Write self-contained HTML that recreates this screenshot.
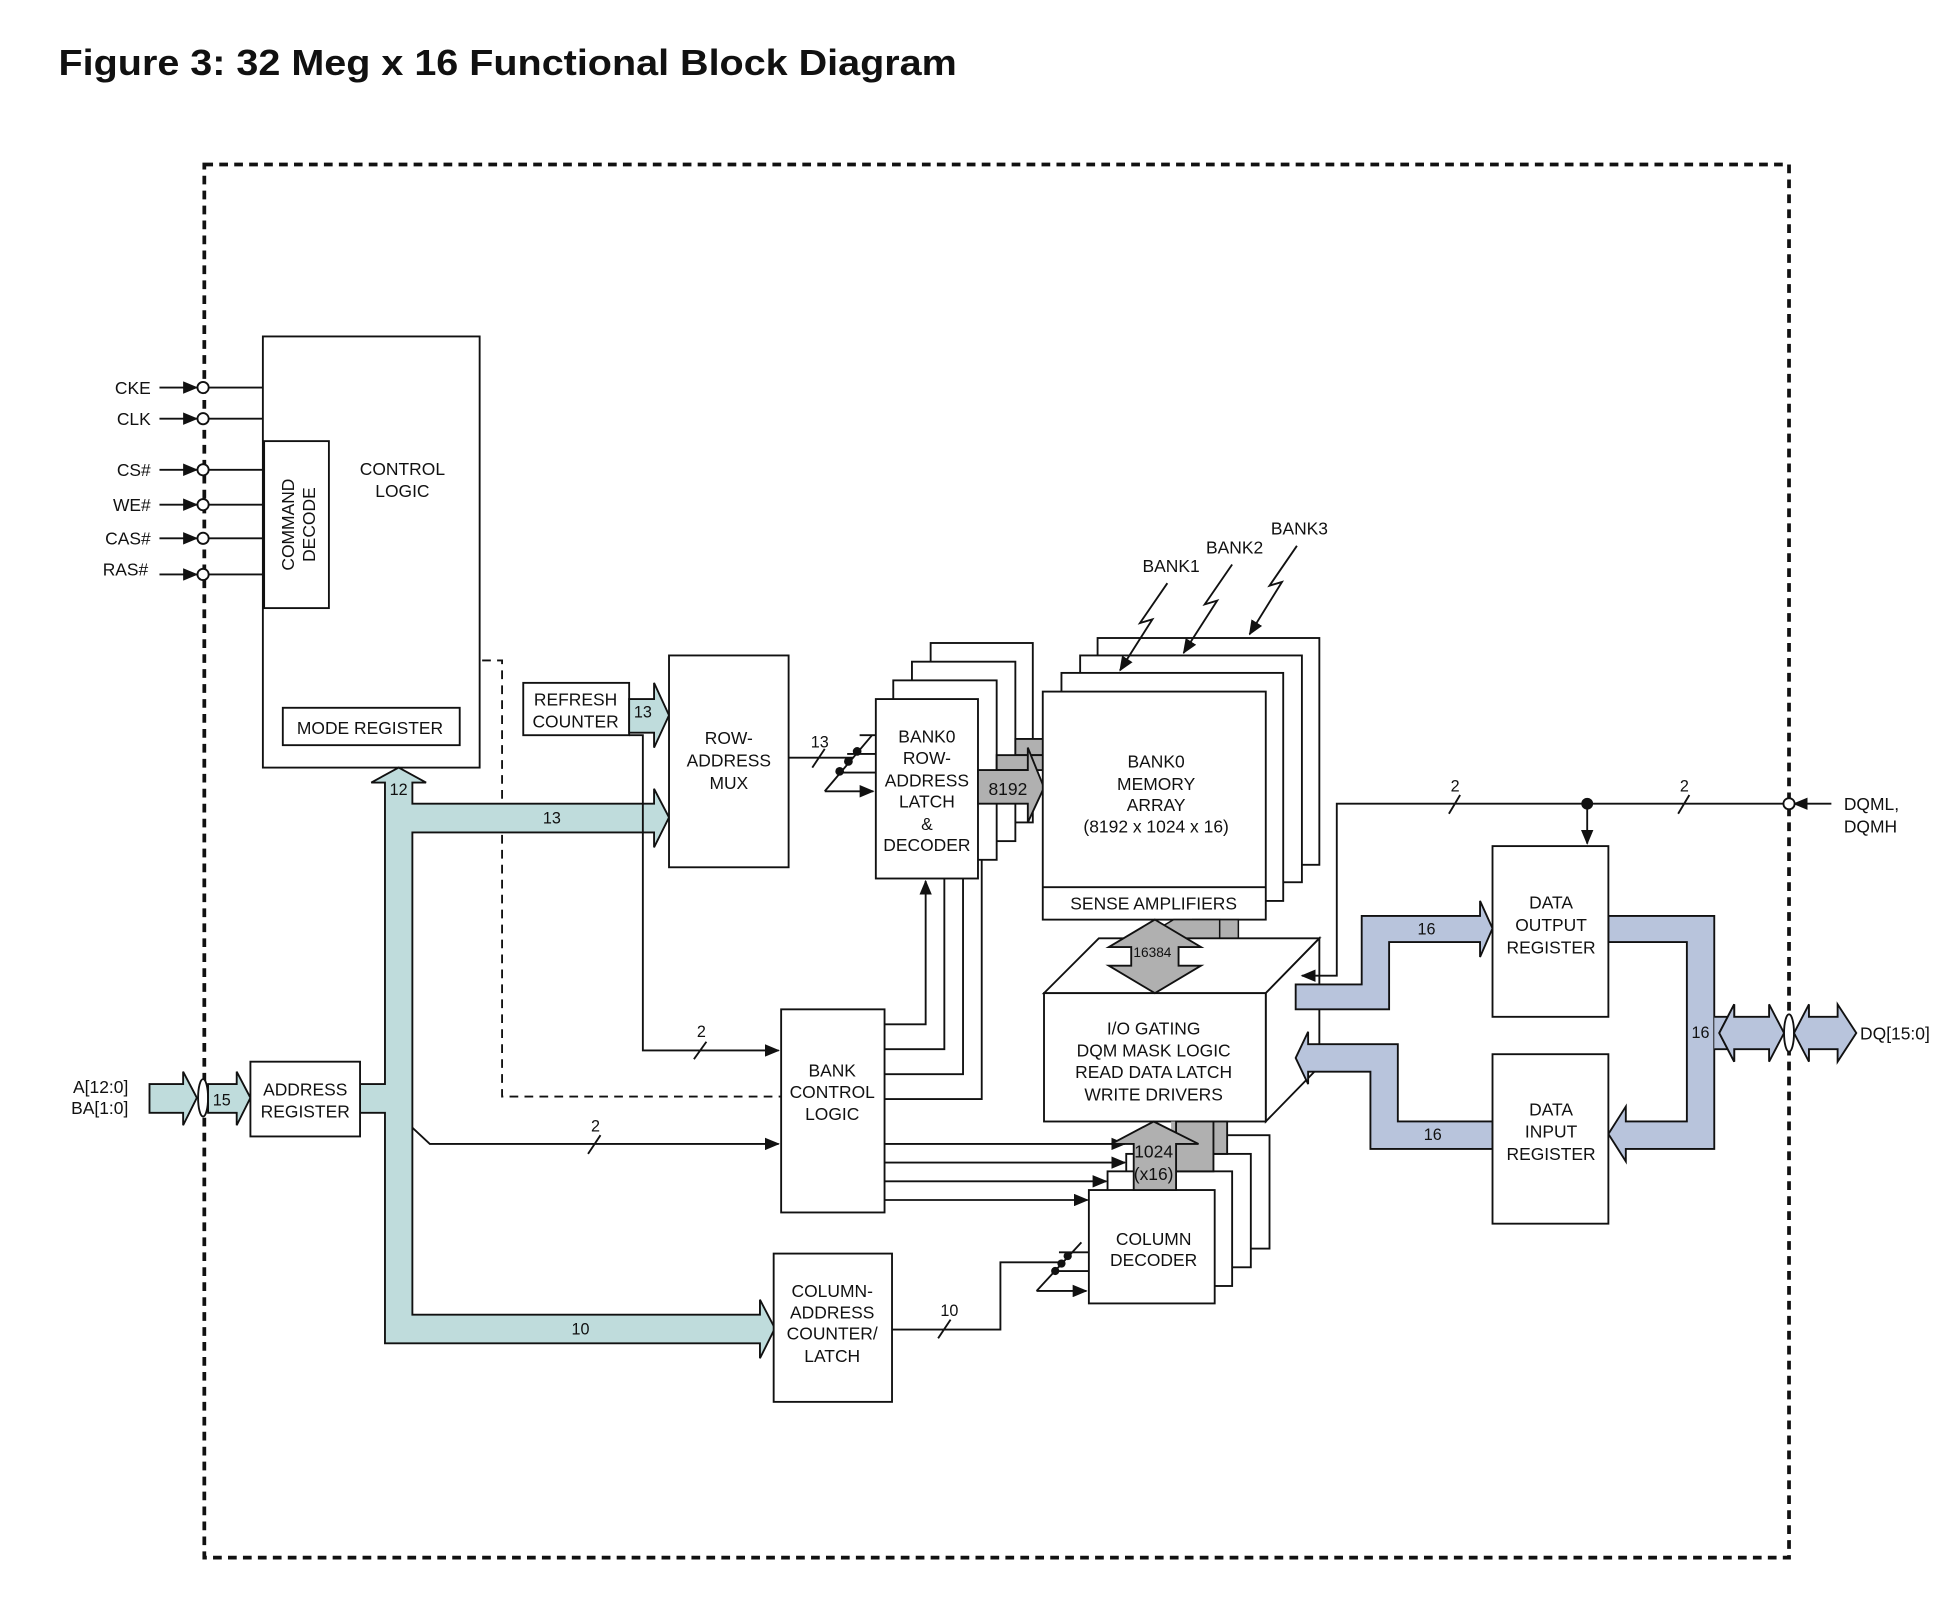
<!DOCTYPE html>
<html><head><meta charset="utf-8"><style>
html,body{margin:0;padding:0;background:#fff;}
svg{display:block;}
text{font-family:"Liberation Sans",sans-serif;font-size:14px;fill:#111;}
</style></head><body>
<svg width="1946" height="1600" viewBox="0 0 1562 1284" preserveAspectRatio="none" xmlns="http://www.w3.org/2000/svg">
<defs>
<marker id="ar" markerWidth="12" markerHeight="10" refX="11" refY="5" orient="auto" markerUnits="userSpaceOnUse"><path d="M0,0 L12,5 L0,10 z" fill="#111"/></marker>
</defs>
<text x="47" y="60" style="font-size:29px;font-weight:bold" textLength="721" lengthAdjust="spacingAndGlyphs">Figure 3: 32 Meg x 16 Functional Block Diagram</text>
<rect x="164" y="132" width="1272" height="1118" fill="none" stroke="#111" stroke-width="3" stroke-dasharray="7,5"/>

<g stroke="#111" stroke-width="1.5" fill="none">
<g>
<line x1="128" y1="311" x2="158" y2="311" marker-end="url(#ar)"/><line x1="167" y1="311" x2="211" y2="311"/>
<line x1="128" y1="336" x2="158" y2="336" marker-end="url(#ar)"/><line x1="167" y1="336" x2="211" y2="336"/>
<line x1="128" y1="377" x2="158" y2="377" marker-end="url(#ar)"/><line x1="167" y1="377" x2="212" y2="377"/>
<line x1="128" y1="405" x2="158" y2="405" marker-end="url(#ar)"/><line x1="167" y1="405" x2="212" y2="405"/>
<line x1="128" y1="432" x2="158" y2="432" marker-end="url(#ar)"/><line x1="167" y1="432" x2="212" y2="432"/>
<line x1="128" y1="461" x2="158" y2="461" marker-end="url(#ar)"/><line x1="167" y1="461" x2="212" y2="461"/>
</g>
<g fill="#fff">
<circle cx="163" cy="311" r="4.5"/><circle cx="163" cy="336" r="4.5"/><circle cx="163" cy="377" r="4.5"/>
<circle cx="163" cy="405" r="4.5"/><circle cx="163" cy="432" r="4.5"/><circle cx="163" cy="461" r="4.5"/>
</g>
<rect x="211" y="270" width="174" height="346" fill="#fff"/>
<rect x="212" y="354" width="52" height="134" fill="#fff"/>
<rect x="227" y="568" width="142" height="30" fill="#fff"/>

<polyline points="387,530 403,530 403,880 627,880" stroke-dasharray="7,5"/>

<path d="M120,870 L147,870 L147,860 L158,881 L147,903 L147,893 L120,893 Z" fill="#bfdcdc"/>
<ellipse cx="163" cy="881" rx="4" ry="15" fill="#fff"/>
<path d="M167,870 L190,870 L190,860 L201,881 L190,903 L190,893 L167,893 Z" fill="#bfdcdc"/>
<path d="M289,893 L309,893 L309,1078 L610,1078 L610,1090 L622,1066 L610,1043 L610,1055 L331,1055 L331,668 L525,668 L525,680 L537,656 L525,633 L525,645 L331,645 L331,628 L342,628 L320,616 L298,628 L309,628 L309,870 L289,870 Z" fill="#bfdcdc"/>
<rect x="201" y="852" width="88" height="60" fill="#fff"/>

<rect x="420" y="548" width="85" height="42" fill="#fff"/>
<path d="M505,561 L525,561 L525,548 L537,574 L525,600 L525,588 L505,588 Z" fill="#bfdcdc"/>
<polyline points="505,590 516,590 516,843 625,843" marker-end="url(#ar)"/>
<line x1="557" y1="850" x2="567" y2="836"/>

<rect x="537" y="526" width="96" height="170" fill="#fff"/>
<line x1="633" y1="608" x2="685" y2="608"/>
<line x1="652" y1="616" x2="662" y2="601"/>
<line x1="662" y1="635" x2="700" y2="590"/>
<line x1="690" y1="590" x2="703" y2="590"/><line x1="680" y1="605" x2="703" y2="605"/><line x1="672" y1="620" x2="703" y2="620"/>
<line x1="662" y1="635" x2="701" y2="635" marker-end="url(#ar)"/>
<g fill="#111" stroke="none"><circle cx="688" cy="603" r="3.5"/><circle cx="681" cy="611" r="3.5"/><circle cx="674" cy="619" r="3.5"/></g>

<!-- bank control vertical lines (drawn before latch stack) -->
<polyline points="710,842 758,842 758,705"/>
<polyline points="710,862 773,862 773,705"/>
<polyline points="710,882 788,882 788,690"/>

<rect x="747" y="516" width="82" height="144" fill="#fff"/>
<rect x="732" y="531" width="83" height="144" fill="#fff"/>
<rect x="717" y="546" width="83" height="144" fill="#fff"/>
<rect x="815" y="593" width="23" height="13" fill="#b0b0b0"/>
<rect x="800" y="606" width="38" height="12" fill="#b0b0b0"/>
<rect x="703" y="561" width="82" height="144" fill="#fff"/>
<path d="M785,618 L825,618 L825,600 L838,632 L825,660 L825,645 L785,645 Z" fill="#b0b0b0"/>

<rect x="627" y="810" width="83" height="163" fill="#fff"/>
<polyline points="331,905 345,918 625,918" marker-end="url(#ar)"/>
<line x1="472" y1="926" x2="482" y2="911"/>
<polyline points="710,822 743,822 743,707" marker-end="url(#ar)"/>
<line x1="710" y1="918" x2="903" y2="918" marker-end="url(#ar)"/>
<line x1="710" y1="933" x2="903" y2="933" marker-end="url(#ar)"/>
<line x1="710" y1="948" x2="888" y2="948" marker-end="url(#ar)"/>
<line x1="710" y1="963" x2="873" y2="963" marker-end="url(#ar)"/>

<rect x="621" y="1006" width="95" height="119" fill="#fff"/>
<polyline points="716,1067 803,1067 803,1013 850,1013"/>
<line x1="753" y1="1074" x2="763" y2="1059"/>
<line x1="832" y1="1036" x2="868" y2="997"/>
<line x1="850" y1="1005" x2="874" y2="1005"/><line x1="845" y1="1020" x2="874" y2="1020"/>
<line x1="832" y1="1036" x2="872" y2="1036" marker-end="url(#ar)"/>
<g fill="#111" stroke="none"><circle cx="857" cy="1008" r="3.3"/><circle cx="852" cy="1014" r="3.3"/><circle cx="847" cy="1020" r="3.3"/></g>

<rect x="881" y="512" width="178" height="182" fill="#fff"/>
<rect x="867" y="526" width="178" height="182" fill="#fff"/>
<rect x="852" y="540" width="178" height="183" fill="#fff"/>
<rect x="837" y="555" width="179" height="183" fill="#fff"/>
<line x1="837" y1="712" x2="1016" y2="712"/>

<polyline points="937,468 915,500 925,497 899,538" marker-end="url(#ar)"/>
<polyline points="989,453 967,485 977,482 950,524" marker-end="url(#ar)"/>
<polyline points="1041,438 1019,470 1029,467 1003,509" marker-end="url(#ar)"/>

<path d="M957,738 L994,738 L994,760 L976,760 L976,775 L994,775 L957,797 L920,775 L938,775 L938,760 L920,760 Z" fill="#b0b0b0" stroke-width="1.2"/>
<path d="M942,738 L979,738 L979,760 L961,760 L961,775 L979,775 L942,797 L905,775 L923,775 L923,760 L905,760 Z" fill="#b0b0b0" stroke-width="1.2"/>

<polygon points="838,797 882,753 1059,753 1016,797" fill="#fff"/>
<polygon points="1016,797 1059,753 1059,856 1016,900" fill="#fff"/>
<rect x="838" y="797" width="178" height="103" fill="#fff"/>
<path d="M927,738 L964,760 L946,760 L946,775 L964,775 L927,797 L890,775 L908,775 L908,760 L890,760 Z" fill="#b0b0b0"/>

<rect x="940" y="900" width="34" height="11" fill="#b0b0b0" stroke="none"/>
<rect x="918" y="911" width="101" height="91" fill="#fff"/>
<rect x="904" y="926" width="100" height="91" fill="#fff"/>
<rect x="889" y="940" width="100" height="92" fill="#fff"/>
<rect x="955" y="900" width="30" height="26" fill="#b0b0b0"/>
<rect x="944" y="900" width="30" height="40" fill="#b0b0b0"/>
<rect x="874" y="955" width="101" height="91" fill="#fff"/>
<path d="M926,900 L962,918 L944,918 L944,955 L910,955 L910,918 L892,918 Z" fill="#b0b0b0"/>

<polyline points="1470,645 1440,645" marker-end="url(#ar)"/>
<polyline points="1431,645 1073,645 1073,783 1045,783" marker-end="url(#ar)"/>
<circle cx="1436" cy="645" r="4.5" fill="#fff"/>
<circle cx="1274" cy="645" r="4" fill="#111"/>
<line x1="1274" y1="645" x2="1274" y2="677" marker-end="url(#ar)"/>
<line x1="1163" y1="653" x2="1172" y2="638"/>
<line x1="1347" y1="653" x2="1356" y2="638"/>

<path d="M1040,790 L1093,790 L1093,735 L1188,735 L1188,723 L1198,745 L1188,768 L1188,756 L1115,756 L1115,810 L1040,810 Z" fill="#b8c4dc"/>
<path d="M1040,849 L1050,828 L1050,838 L1122,838 L1122,900 L1198,900 L1198,922 L1100,922 L1100,860 L1050,860 L1050,870 Z" fill="#b8c4dc"/>
<path d="M1291,735 L1376,735 L1376,922 L1305,922 L1305,932 L1291,910 L1305,888 L1305,900 L1354,900 L1354,756 L1291,756 Z" fill="#b8c4dc"/>
<path d="M1376,816 L1392,816 L1392,806 L1380,829 L1392,852 L1392,842 L1376,842" fill="#b8c4dc"/>
<path d="M1392,806 L1392,816 L1420,816 L1420,806 L1432,829 L1420,852 L1420,842 L1392,842 L1392,852 L1380,829 Z" fill="#b8c4dc"/>
<ellipse cx="1436" cy="829" rx="4" ry="15" fill="#fff"/>
<path d="M1452,806 L1452,816 L1475,816 L1475,806 L1490,829 L1475,852 L1475,842 L1452,842 L1452,852 L1440,829 Z" fill="#b8c4dc"/>

<rect x="1198" y="679" width="93" height="137" fill="#fff"/>
<rect x="1198" y="846" width="93" height="136" fill="#fff"/>
</g>

<g>
<text x="121" y="316" text-anchor="end">CKE</text>
<text x="121" y="341" text-anchor="end">CLK</text>
<text x="121" y="382" text-anchor="end">CS#</text>
<text x="121" y="410" text-anchor="end">WE#</text>
<text x="121" y="437" text-anchor="end">CAS#</text>
<text x="119" y="462" text-anchor="end">RAS#</text>
<text transform="translate(236,421) rotate(-90)" text-anchor="middle">COMMAND</text>
<text transform="translate(253,421) rotate(-90)" text-anchor="middle">DECODE</text>
<text x="323" y="381" text-anchor="middle">CONTROL</text>
<text x="323" y="399" text-anchor="middle">LOGIC</text>
<text x="297" y="589" text-anchor="middle">MODE REGISTER</text>
<text x="320" y="638" text-anchor="middle" style="font-size:13px">12</text>
<text x="443" y="661" text-anchor="middle" style="font-size:13px">13</text>
<text x="462" y="566" text-anchor="middle">REFRESH</text>
<text x="462" y="584" text-anchor="middle">COUNTER</text>
<text x="516" y="576" text-anchor="middle" style="font-size:13px">13</text>
<text x="585" y="597" text-anchor="middle">ROW-</text>
<text x="585" y="615" text-anchor="middle">ADDRESS</text>
<text x="585" y="633" text-anchor="middle">MUX</text>
<text x="658" y="600" text-anchor="middle" style="font-size:13px">13</text>
<text x="744" y="596" text-anchor="middle">BANK0</text>
<text x="744" y="613" text-anchor="middle">ROW-</text>
<text x="744" y="631" text-anchor="middle">ADDRESS</text>
<text x="744" y="648" text-anchor="middle">LATCH</text>
<text x="744" y="666" text-anchor="middle">&amp;</text>
<text x="744" y="683" text-anchor="middle">DECODER</text>
<text x="809" y="638" text-anchor="middle">8192</text>
<text x="940" y="459" text-anchor="middle">BANK1</text>
<text x="991" y="444" text-anchor="middle">BANK2</text>
<text x="1043" y="429" text-anchor="middle">BANK3</text>
<text x="928" y="616" text-anchor="middle">BANK0</text>
<text x="928" y="634" text-anchor="middle">MEMORY</text>
<text x="928" y="651" text-anchor="middle">ARRAY</text>
<text x="928" y="668" text-anchor="middle">(8192 x 1024 x 16)</text>
<text x="926" y="730" text-anchor="middle">SENSE AMPLIFIERS</text>
<text x="925" y="768" text-anchor="middle" style="font-size:11px">16384</text>
<text x="926" y="830" text-anchor="middle">I/O GATING</text>
<text x="926" y="848" text-anchor="middle">DQM MASK LOGIC</text>
<text x="926" y="865" text-anchor="middle">READ DATA LATCH</text>
<text x="926" y="883" text-anchor="middle">WRITE DRIVERS</text>
<text x="926" y="929" text-anchor="middle">1024</text>
<text x="926" y="947" text-anchor="middle">(x16)</text>
<text x="926" y="999" text-anchor="middle">COLUMN</text>
<text x="926" y="1016" text-anchor="middle">DECODER</text>
<text x="668" y="864" text-anchor="middle">BANK</text>
<text x="668" y="881" text-anchor="middle">CONTROL</text>
<text x="668" y="899" text-anchor="middle">LOGIC</text>
<text x="563" y="832" text-anchor="middle" style="font-size:13px">2</text>
<text x="478" y="908" text-anchor="middle" style="font-size:13px">2</text>
<text x="668" y="1041" text-anchor="middle">COLUMN-</text>
<text x="668" y="1058" text-anchor="middle">ADDRESS</text>
<text x="668" y="1075" text-anchor="middle">COUNTER/</text>
<text x="668" y="1093" text-anchor="middle">LATCH</text>
<text x="466" y="1071" text-anchor="middle" style="font-size:13px">10</text>
<text x="762" y="1056" text-anchor="middle" style="font-size:13px">10</text>
<text x="103" y="877" text-anchor="end">A[12:0]</text>
<text x="103" y="894" text-anchor="end">BA[1:0]</text>
<text x="178" y="887" text-anchor="middle" style="font-size:13px">15</text>
<text x="245" y="879" text-anchor="middle">ADDRESS</text>
<text x="245" y="897" text-anchor="middle">REGISTER</text>
<text x="1168" y="635" text-anchor="middle" style="font-size:13px">2</text>
<text x="1352" y="635" text-anchor="middle" style="font-size:13px">2</text>
<text x="1480" y="650">DQML,</text>
<text x="1480" y="668">DQMH</text>
<text x="1245" y="729" text-anchor="middle">DATA</text>
<text x="1245" y="747" text-anchor="middle">OUTPUT</text>
<text x="1245" y="765" text-anchor="middle">REGISTER</text>
<text x="1245" y="895" text-anchor="middle">DATA</text>
<text x="1245" y="913" text-anchor="middle">INPUT</text>
<text x="1245" y="931" text-anchor="middle">REGISTER</text>
<text x="1145" y="750" text-anchor="middle" style="font-size:13px">16</text>
<text x="1150" y="915" text-anchor="middle" style="font-size:13px">16</text>
<text x="1365" y="833" text-anchor="middle" style="font-size:13px">16</text>
<text x="1493" y="834">DQ[15:0]</text>
</g>
</svg>
</body></html>
